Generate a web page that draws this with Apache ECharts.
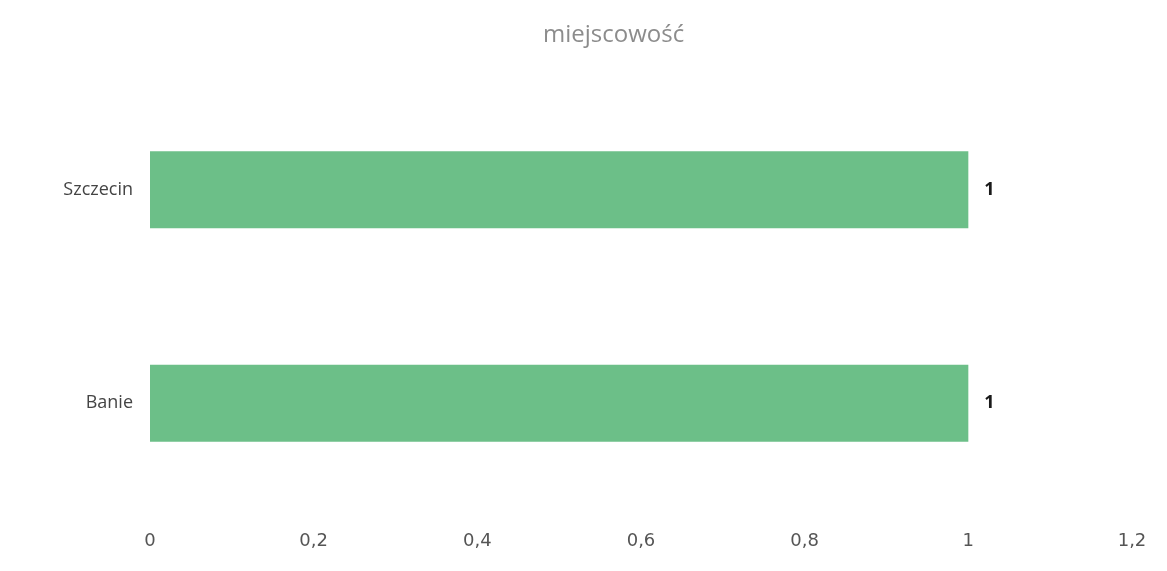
<!DOCTYPE html>
<html>
<head>
<meta charset="utf-8">
<script src="https://cdn.jsdelivr.net/npm/echarts@6/dist/echarts.min.js"></script>
<style>html,body{margin:0;padding:0;background:#fff;}#c{width:1167px;height:571px;}</style>
</head>
<body>
<div id="c"></div>
<script>
const categories = ['Banie', 'Szczecin'];
const values = [1, 1];
const titleText = 'miejscowość';

const chart = echarts.init(document.getElementById('c'));
chart.setOption({
  animation: false,
  backgroundColor: '#ffffff',
  title: {
    text: titleText,
    left: 538,
    top: 18,
    textStyle: { color: '#8c8c8c', fontSize: 24, fontWeight: 'normal', fontFamily: 'Open Sans' }
  },
  grid: { left: 150, right: 35, top: 83, bottom: 61 },
  xAxis: {
    type: 'value',
    min: 0, max: 1.2, interval: 0.2,
    axisLine: { show: false },
    axisTick: { show: false },
    splitLine: { show: false },
    axisLabel: {
      margin: 22,
      color: '#555',
      fontSize: 18,
      fontFamily: 'DejaVu Sans',
      formatter: v => String(Math.round(v * 10) / 10).replace('.', ',')
    }
  },
  yAxis: {
    type: 'category',
    data: categories,
    axisLine: { show: false },
    axisTick: { show: false },
    axisLabel: { margin: 17, color: '#444', fontSize: 18, fontFamily: 'Open Sans' }
  },
  series: [{
    type: 'bar',
    data: values,
    barCategoryGap: '64%',
    itemStyle: { color: '#6cbf88' },
    label: {
      show: true,
      position: 'right',
      distance: 16,
      color: '#1a1a1a',
      fontWeight: 'bold',
      fontSize: 18,
      fontFamily: 'Open Sans'
    }
  }]
});
</script>
</body>
</html>
